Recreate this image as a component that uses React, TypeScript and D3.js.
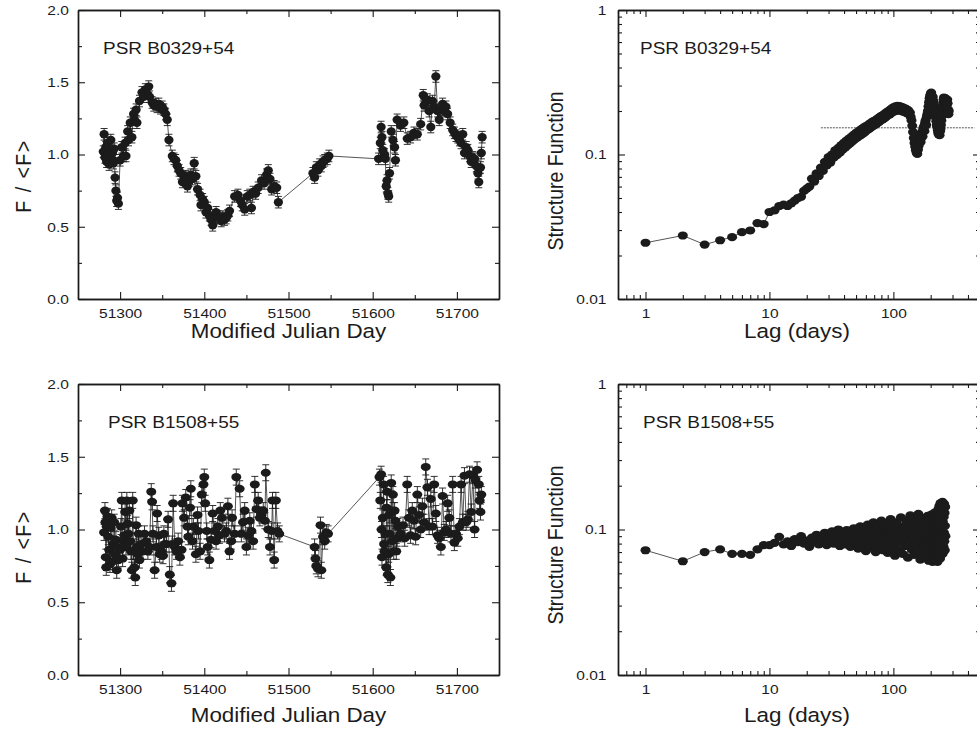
import React, { useEffect, useRef } from 'react';
import * as d3 from 'd3';

// PSR B0329+54 light curve: [MJD, F/<F>]
const b0329Flux: [number, number][] = [
  [51280, 1.02], [51281, 1.14], [51282, 0.98], [51283, 1.05], [51284, 0.95], [51285, 1.08], [51286, 1.0],
  [51287, 0.93], [51288, 1.03], [51289, 1.1], [51290, 0.97], [51291, 1.01], [51292, 0.94], [51293, 1.04],
  [51294, 0.84], [51295, 0.75], [51296, 0.68], [51297, 0.7], [51298, 0.66], [51300, 0.96], [51302, 1.05],
  [51304, 0.99], [51306, 1.08], [51307, 0.99], [51309, 1.16], [51310, 1.1], [51312, 1.22], [51314, 1.12],
  [51316, 1.28], [51317, 1.24], [51319, 1.31], [51320, 1.22], [51323, 1.37], [51326, 1.43], [51328, 1.4],
  [51330, 1.45], [51332, 1.42], [51334, 1.47], [51335, 1.4], [51338, 1.36], [51340, 1.34], [51342, 1.35],
  [51344, 1.33], [51346, 1.35], [51348, 1.32], [51350, 1.33], [51352, 1.31], [51354, 1.28], [51356, 1.24],
  [51358, 1.1], [51362, 0.99], [51364, 0.97], [51366, 0.96], [51368, 0.92], [51370, 0.89], [51372, 0.87],
  [51374, 0.81], [51376, 0.84], [51378, 0.85], [51380, 0.78], [51382, 0.82], [51384, 0.86], [51386, 0.83],
  [51388, 0.94], [51390, 0.85], [51392, 0.76], [51395, 0.72], [51396, 0.65], [51398, 0.69], [51400, 0.67],
  [51402, 0.6], [51404, 0.63], [51406, 0.58], [51408, 0.55], [51410, 0.51], [51412, 0.56], [51414, 0.6],
  [51416, 0.57], [51418, 0.56], [51420, 0.54], [51422, 0.57], [51424, 0.55], [51426, 0.56], [51428, 0.58],
  [51430, 0.61], [51436, 0.71], [51440, 0.72], [51443, 0.68], [51445, 0.65], [51448, 0.62], [51451, 0.71],
  [51454, 0.72], [51456, 0.63], [51458, 0.74], [51461, 0.73], [51464, 0.77], [51468, 0.82], [51471, 0.8],
  [51474, 0.86], [51476, 0.89], [51478, 0.83], [51480, 0.76], [51483, 0.78], [51486, 0.77], [51488, 0.67],
  [51529, 0.87], [51531, 0.84], [51533, 0.91], [51535, 0.89], [51537, 0.93], [51539, 0.92], [51541, 0.95],
  [51543, 0.96], [51546, 0.97], [51548, 0.99],
  [51607, 0.97], [51609, 1.08], [51610, 1.19], [51611, 1.12], [51612, 1.03], [51614, 1.0], [51615, 0.97],
  [51616, 0.78], [51617, 0.82], [51618, 0.73], [51619, 0.71], [51620, 0.87], [51622, 1.16], [51624, 1.1],
  [51626, 1.05], [51627, 0.96], [51629, 1.24], [51633, 1.2], [51637, 1.22], [51641, 1.11], [51645, 1.12],
  [51649, 1.15], [51653, 1.14], [51657, 1.21], [51660, 1.41], [51661, 1.34], [51663, 1.36], [51665, 1.38],
  [51667, 1.3], [51669, 1.19], [51671, 1.37], [51673, 1.33], [51675, 1.54], [51677, 1.3], [51679, 1.24],
  [51681, 1.31], [51683, 1.35], [51685, 1.3], [51687, 1.33], [51689, 1.28], [51692, 1.22], [51695, 1.17],
  [51697, 1.15], [51699, 1.13], [51701, 1.12], [51703, 1.1], [51705, 1.08], [51707, 1.14], [51709, 1.01],
  [51711, 1.05], [51713, 1.03], [51715, 0.99], [51717, 0.95], [51719, 0.98], [51721, 0.97], [51723, 0.92],
  [51725, 0.87], [51726, 0.81], [51728, 0.91], [51729, 1.01], [51730, 1.12],
];
const b0329Err = 0.04;

// PSR B1508+55 light curve: [MJD, F/<F>]
const b1508Flux: [number, number][] = [
  [51281, 0.98], [51282, 1.13], [51282.5, 1.05], [51283, 0.81], [51283.5, 0.74], [51284, 1.02], [51285, 1.09],
  [51286, 0.95], [51287, 0.86], [51288, 0.76], [51289, 1.01], [51290, 1.08], [51291, 0.78], [51292, 0.9],
  [51293, 1.05], [51294, 0.83], [51295, 0.93], [51296, 0.72], [51297, 0.88], [51298, 0.79], [51300, 0.86],
  [51301, 1.02], [51302, 1.2], [51303, 0.8], [51304, 0.92], [51305, 0.96], [51306, 1.12], [51307, 0.88],
  [51308, 1.2], [51309, 1.04], [51310, 0.97], [51311, 1.13], [51312, 0.92], [51313, 0.85], [51314, 0.72],
  [51315, 1.2], [51316, 0.85], [51317, 0.74], [51318, 0.67], [51319, 1.03], [51320, 0.88], [51321, 0.83],
  [51322, 0.97], [51323, 0.79], [51325, 0.9], [51327, 0.85], [51329, 0.97], [51331, 0.92], [51333, 0.85],
  [51335, 0.88], [51337, 1.26], [51338, 1.19], [51339, 0.97], [51341, 0.72], [51343, 0.88], [51344, 1.11],
  [51346, 0.96], [51347, 0.83], [51349, 0.85], [51351, 0.82], [51352, 0.97], [51353, 0.9], [51355, 0.9],
  [51357, 1.07], [51359, 0.69], [51361, 0.63], [51362, 0.9], [51363, 1.18], [51365, 0.88], [51367, 0.85],
  [51369, 0.92], [51371, 0.81], [51373, 0.86], [51374, 1.18], [51376, 1.08], [51378, 1.22], [51380, 1.02],
  [51381, 0.95], [51383, 1.15], [51384, 1.28], [51386, 0.92], [51387, 1.02], [51390, 0.83], [51392, 1.1],
  [51393, 0.99], [51395, 0.85], [51397, 1.24], [51399, 1.31], [51400, 1.36], [51401, 1.18], [51403, 0.99],
  [51404, 0.88], [51406, 0.79], [51408, 0.93], [51410, 1.11], [51412, 0.99], [51414, 0.92], [51416, 1.02],
  [51418, 0.96], [51419, 1.13], [51421, 1.08], [51424, 0.97], [51426, 0.99], [51428, 1.16], [51430, 0.85],
  [51432, 0.92], [51433, 1.08], [51436, 0.97], [51438, 1.36], [51442, 1.28], [51444, 0.97], [51446, 1.05],
  [51448, 1.13], [51450, 0.88], [51452, 0.96], [51454, 1.06], [51456, 0.99], [51458, 0.92], [51460, 1.31],
  [51462, 1.14], [51464, 1.2], [51466, 1.08], [51468, 1.1], [51470, 1.13], [51472, 1.06], [51473, 1.39],
  [51476, 1.0], [51478, 0.88], [51480, 0.99], [51481, 1.2], [51483, 0.79], [51485, 1.2], [51487, 0.99],
  [51489, 0.97],
  [51531, 0.88], [51532, 0.8], [51533, 0.75], [51535, 0.73], [51538, 1.03], [51539, 0.72], [51541, 0.95],
  [51543, 0.92], [51545, 0.98], [51547, 0.97],
  [51608, 1.36], [51609, 1.2], [51610, 1.38], [51610.5, 1.0], [51611, 0.81], [51612, 1.08], [51613, 1.31],
  [51613.5, 0.9], [51614, 0.85], [51615, 0.97], [51616, 0.74], [51616.5, 1.15], [51617, 1.26], [51618, 0.69],
  [51619, 0.83], [51619.5, 1.1], [51620, 0.97], [51621, 0.67], [51622, 1.32], [51623, 0.92], [51624, 1.24],
  [51625, 0.85], [51626, 1.13], [51627, 1.06], [51628, 0.85], [51629, 0.94], [51630, 1.02], [51633, 0.97],
  [51636, 1.03], [51638, 0.94], [51641, 1.31], [51643, 1.08], [51645, 0.96], [51647, 1.13], [51649, 1.06],
  [51651, 0.95], [51653, 1.24], [51655, 1.1], [51657, 1.0], [51659, 1.16], [51661, 1.05], [51663, 1.43],
  [51665, 1.29], [51667, 1.02], [51669, 1.21], [51671, 1.02], [51673, 1.31], [51675, 1.11], [51677, 0.96],
  [51679, 0.94], [51681, 0.88], [51683, 1.23], [51685, 0.98], [51687, 1.0], [51689, 1.18], [51691, 1.08],
  [51693, 0.97], [51695, 1.31], [51697, 0.91], [51699, 0.97], [51701, 0.94], [51703, 1.02], [51705, 1.31],
  [51707, 1.05], [51709, 1.37], [51711, 1.05], [51713, 1.07], [51715, 1.38], [51717, 1.12], [51719, 1.37],
  [51721, 1.0], [51722, 1.34], [51724, 1.41], [51726, 1.31], [51727, 1.2], [51728, 1.12], [51729, 1.24],
];
const b1508Err = 0.055;

// structure functions: [lag (days), SF]
const b0329SF: [number, number][] = [
  [1, 0.0245], [2, 0.0275], [3, 0.0238], [4, 0.0255], [5, 0.0268], [6, 0.029], [7, 0.0298], [8, 0.0335],
  [9, 0.033], [10, 0.04], [11, 0.041], [12, 0.044], [13, 0.045], [14, 0.044], [15, 0.046], [16, 0.048],
  [17, 0.05], [18, 0.051], [19, 0.056], [20, 0.058], [21, 0.06], [22, 0.068], [23, 0.065], [24, 0.074],
  [25, 0.071], [26, 0.081], [27, 0.077], [28, 0.089], [29, 0.084], [30, 0.096], [31, 0.088], [32, 0.1],
  [33, 0.095], [34, 0.107], [35, 0.099], [36, 0.111], [37, 0.103], [38, 0.116], [39, 0.108], [40, 0.121],
  [41, 0.112], [42, 0.125], [43, 0.116], [44, 0.129], [45, 0.12], [46, 0.133], [47, 0.124], [48, 0.137],
  [49, 0.128], [50, 0.141], [51, 0.131], [52, 0.144], [53, 0.134], [54, 0.148], [55, 0.137], [56, 0.151],
  [57, 0.14], [58, 0.154], [59, 0.143], [60, 0.157], [62, 0.148], [63, 0.161], [64, 0.151], [65, 0.164],
  [66, 0.154], [67, 0.167], [68, 0.157], [69, 0.17], [70, 0.159], [72, 0.173], [73, 0.163], [74, 0.176],
  [75, 0.166], [76, 0.179], [77, 0.169], [78, 0.182], [79, 0.172], [80, 0.185], [82, 0.175], [83, 0.188],
  [84, 0.178], [85, 0.191], [86, 0.181], [87, 0.194], [88, 0.184], [89, 0.197], [90, 0.187], [92, 0.2],
  [93, 0.189], [94, 0.203], [95, 0.192], [96, 0.206], [97, 0.195], [98, 0.209], [99, 0.197], [100, 0.212],
  [102, 0.199], [104, 0.215], [106, 0.201], [108, 0.217], [110, 0.203], [112, 0.216], [114, 0.201],
  [116, 0.214], [118, 0.199], [120, 0.211], [122, 0.197], [124, 0.209], [126, 0.195], [128, 0.205],
  [130, 0.193], [132, 0.202], [134, 0.19], [136, 0.195], [138, 0.182], [140, 0.172], [142, 0.158],
  [144, 0.143], [146, 0.13], [148, 0.12], [150, 0.113], [152, 0.107], [154, 0.103], [156, 0.101],
  [158, 0.108], [160, 0.115], [162, 0.124], [164, 0.13], [166, 0.122], [168, 0.137], [170, 0.142],
  [172, 0.133], [174, 0.15], [176, 0.156], [178, 0.145], [180, 0.165], [182, 0.172], [184, 0.16], [186, 0.182],
  [188, 0.19], [190, 0.2], [192, 0.215], [194, 0.23], [196, 0.245], [198, 0.255], [200, 0.262], [202, 0.268],
  [204, 0.255], [206, 0.24], [208, 0.25], [210, 0.235], [212, 0.22], [214, 0.21], [216, 0.2], [218, 0.19],
  [220, 0.18], [222, 0.17], [224, 0.16], [226, 0.155], [228, 0.148], [230, 0.142], [232, 0.138], [234, 0.14],
  [236, 0.136], [238, 0.145], [240, 0.15], [242, 0.16], [244, 0.172], [246, 0.185], [248, 0.2], [250, 0.215],
  [252, 0.228], [254, 0.24], [256, 0.248], [258, 0.238], [260, 0.225], [262, 0.245], [264, 0.232],
  [266, 0.215], [268, 0.2], [270, 0.222], [272, 0.24], [274, 0.226], [276, 0.205], [278, 0.19], [280, 0.2],
];
const b0329SFLevel = 0.153;
const b0329SFLevelLags = [26, 450];

const b1508SF: [number, number][] = [
  [1, 0.072], [2, 0.0605], [3, 0.07], [4, 0.073], [5, 0.068], [6, 0.068], [7, 0.067], [8, 0.073], [9, 0.078],
  [10, 0.078], [11, 0.081], [12, 0.089], [13, 0.079], [14, 0.083], [15, 0.077], [16, 0.086], [17, 0.082],
  [18, 0.09], [19, 0.08], [20, 0.084], [21, 0.076], [22, 0.088], [23, 0.082], [24, 0.092], [25, 0.079],
  [26, 0.086], [27, 0.081], [28, 0.095], [29, 0.078], [30, 0.087], [31, 0.083], [32, 0.097], [33, 0.08],
  [34, 0.089], [35, 0.085], [36, 0.1], [37, 0.077], [38, 0.091], [39, 0.084], [40, 0.094], [41, 0.079],
  [42, 0.099], [43, 0.086], [44, 0.09], [45, 0.076], [46, 0.096], [47, 0.083], [48, 0.102], [49, 0.088],
  [50, 0.081], [51, 0.097], [52, 0.074], [53, 0.091], [54, 0.105], [55, 0.083], [56, 0.095], [57, 0.078],
  [58, 0.101], [59, 0.088], [60, 0.071], [61, 0.093], [62, 0.108], [63, 0.082], [64, 0.097], [65, 0.076],
  [66, 0.089], [67, 0.103], [68, 0.085], [69, 0.112], [70, 0.079], [71, 0.094], [72, 0.07], [73, 0.099],
  [74, 0.087], [75, 0.106], [76, 0.081], [77, 0.092], [78, 0.074], [79, 0.1], [80, 0.115], [81, 0.084],
  [82, 0.096], [83, 0.072], [84, 0.09], [85, 0.104], [86, 0.079], [87, 0.098], [88, 0.086], [89, 0.11],
  [90, 0.069], [91, 0.093], [92, 0.082], [93, 0.102], [94, 0.076], [95, 0.118], [96, 0.088], [97, 0.097],
  [98, 0.073], [99, 0.107], [100, 0.084], [101, 0.095], [103, 0.066], [105, 0.112], [107, 0.08], [109, 0.1],
  [111, 0.072], [113, 0.09], [115, 0.121], [117, 0.085], [119, 0.068], [121, 0.105], [123, 0.094],
  [125, 0.077], [127, 0.115], [129, 0.088], [131, 0.064], [133, 0.099], [135, 0.082], [137, 0.125],
  [139, 0.092], [141, 0.073], [143, 0.108], [145, 0.086], [147, 0.067], [149, 0.118], [151, 0.096],
  [153, 0.079], [155, 0.103], [157, 0.07], [159, 0.128], [161, 0.089], [163, 0.112], [165, 0.062],
  [167, 0.097], [169, 0.083], [171, 0.12], [173, 0.075], [175, 0.104], [177, 0.091], [179, 0.066],
  [181, 0.114], [183, 0.085], [185, 0.1], [187, 0.071], [189, 0.124], [191, 0.088], [193, 0.061],
  [195, 0.108], [197, 0.079], [199, 0.095], [200, 0.118], [201, 0.068], [202, 0.102], [203, 0.084],
  [204, 0.127], [205, 0.074], [206, 0.093], [207, 0.06], [208, 0.111], [209, 0.087], [210, 0.098],
  [211, 0.065], [212, 0.122], [213, 0.081], [214, 0.105], [215, 0.072], [216, 0.092], [217, 0.131],
  [218, 0.062], [219, 0.099], [220, 0.084], [221, 0.115], [222, 0.07], [223, 0.094], [224, 0.128],
  [225, 0.077], [226, 0.103], [227, 0.06], [228, 0.089], [229, 0.12], [230, 0.082], [231, 0.138],
  [232, 0.069], [233, 0.108], [234, 0.093], [235, 0.145], [236, 0.075], [237, 0.117], [238, 0.063],
  [239, 0.1], [240, 0.152], [241, 0.086], [242, 0.128], [243, 0.071], [244, 0.11], [245, 0.147],
  [246, 0.08], [247, 0.135], [248, 0.097], [249, 0.155], [250, 0.068], [251, 0.113], [252, 0.088],
  [253, 0.14], [254, 0.076], [255, 0.122], [256, 0.095], [257, 0.15], [258, 0.083], [259, 0.13],
  [260, 0.072], [261, 0.106], [262, 0.143], [263, 0.09],
];

const mjdTicks = [51300, 51400, 51500, 51600, 51700];
const mjdMinor = [51350, 51450, 51550, 51650];
const fluxTicks = [0, 0.5, 1.0, 1.5, 2.0];
const fluxMinor = [0.25, 0.75, 1.25, 1.75];
const lagTicks = [1, 10, 100];
const lagMinor = [0.6, 0.7, 0.8, 0.9, 2, 3, 4, 5, 6, 7, 8, 9, 20, 30, 40, 50, 60, 70, 80, 90, 200, 300, 400];
const sfTicks = [0.01, 0.1, 1];
const sfMinor = [0.02, 0.03, 0.04, 0.05, 0.06, 0.07, 0.08, 0.09, 0.2, 0.3, 0.4, 0.5, 0.6, 0.7, 0.8, 0.9];

const W = 977;
const H = 744;
const FONT = '"Liberation Sans", Arial, Helvetica, sans-serif';
const INK = '#1b1b1b';
const STRETCH = 1.15; // the original type is a bit wide

const LEFT_X: [number, number] = [78, 499];
const RIGHT_X: [number, number] = [618, 980];
const ROW_Y: [number, number][] = [[299, 10], [675, 384]];

type Sel = d3.Selection<any, any, any, any>;

function frame(g: Sel, x: any, y: any, majX: number[], minX: number[], majY: number[], minY: number[],
  fmtX: (d: any) => string, fmtY: (d: any) => string, padY: number) {
  const [x0, x1] = x.range();
  const [yb, yt] = y.range();
  const none = () => '';
  const add = (axis: any, tx: number, ty: number) => {
    const a = g.append('g').attr('transform', `translate(${tx},${ty})`).call(axis);
    a.attr('font-family', FONT).attr('font-size', 13.5);
    a.select('.domain').attr('stroke', INK).attr('stroke-width', 1.4);
    a.selectAll('.tick line').attr('stroke', INK).attr('stroke-width', 1.1);
    a.selectAll('.tick text').attr('fill', INK).attr('transform', `scale(${STRETCH},1)`);
  };
  add(d3.axisBottom(x).tickValues(majX).tickSizeInner(-7).tickSizeOuter(0).tickPadding(9).tickFormat(fmtX), 0, yb);
  add(d3.axisBottom(x).tickValues(minX).tickSizeInner(-4).tickSizeOuter(0).tickFormat(none), 0, yb);
  add(d3.axisTop(x).tickValues(majX).tickSizeInner(-7).tickSizeOuter(0).tickFormat(none), 0, yt);
  add(d3.axisTop(x).tickValues(minX).tickSizeInner(-4).tickSizeOuter(0).tickFormat(none), 0, yt);
  add(d3.axisLeft(y).tickValues(majY).tickSizeInner(-7).tickSizeOuter(0).tickPadding(padY).tickFormat(fmtY), x0, 0);
  add(d3.axisLeft(y).tickValues(minY).tickSizeInner(-4).tickSizeOuter(0).tickFormat(none), x0, 0);
  add(d3.axisRight(y).tickValues(majY).tickSizeInner(-7).tickSizeOuter(0).tickFormat(none), x1, 0);
  add(d3.axisRight(y).tickValues(minY).tickSizeInner(-4).tickSizeOuter(0).tickFormat(none), x1, 0);
}

function label(g: Sel, text: string, x: number, y: number, size: number, anchor: string, rotate = false, spacing = 0) {
  g.append('text')
    .attr('transform', `translate(${x},${y}) scale(${STRETCH},1)${rotate ? ' rotate(-90)' : ''}`)
    .attr('text-anchor', anchor)
    .attr('font-family', FONT)
    .attr('font-size', size)
    .attr('letter-spacing', spacing)
    .attr('fill', INK)
    .text(text);
}

function drawFlux(root: Sel, data: [number, number][], err: number, row: number, title: string, tx: number,
  rx: number, ry: number) {
  const [yb, yt] = ROW_Y[row];
  const x = d3.scaleLinear().domain([51250, 51750]).range(LEFT_X);
  const y = d3.scaleLinear().domain([0, 2]).range([yb, yt]);
  const g = root.append('g');

  g.append('path')
    .datum(data)
    .attr('d', d3.line<[number, number]>().x((d) => x(d[0])).y((d) => y(d[1])))
    .attr('fill', 'none').attr('stroke', '#2a2a2a').attr('stroke-width', 0.8);

  const eb = g.append('g').attr('stroke', INK).attr('stroke-width', 0.9);
  eb.selectAll('line.v').data(data).join('line').attr('class', 'v')
    .attr('x1', (d) => x(d[0])).attr('x2', (d) => x(d[0]))
    .attr('y1', (d) => y(d[1] - err)).attr('y2', (d) => y(d[1] + err));
  [1, -1].forEach((s) => {
    eb.selectAll(`line.c${s}`).data(data).join('line').attr('class', `c${s}`)
      .attr('x1', (d) => x(d[0]) - 3.5).attr('x2', (d) => x(d[0]) + 3.5)
      .attr('y1', (d) => y(d[1] + s * err)).attr('y2', (d) => y(d[1] + s * err));
  });

  g.append('g').attr('fill', INK).selectAll('ellipse').data(data).join('ellipse')
    .attr('cx', (d) => x(d[0])).attr('cy', (d) => y(d[1])).attr('rx', rx).attr('ry', ry);

  frame(g, x, y, mjdTicks, mjdMinor, fluxTicks, fluxMinor, (d) => String(d), d3.format('.1f'), 8);

  label(g, title, tx, yt + 43.5, 16.5, 'start');
  label(g, 'Modified Julian Day', (LEFT_X[0] + LEFT_X[1]) / 2, row === 0 ? 338 : 722, 19.5, 'middle');
  label(g, 'F / <F>', 31, row === 0 ? 176 : 547, 19.5, 'middle', true, 1.5);
}

function drawSF(root: Sel, data: [number, number][], row: number, title: string, tx: number, level?: number) {
  const [yb, yt] = ROW_Y[row];
  const x = d3.scaleLog().domain([0.6, 500]).range(RIGHT_X);
  const y = d3.scaleLog().domain([0.01, 1]).range([yb, yt]);
  const g = root.append('g');

  if (level !== undefined) {
    g.append('line')
      .attr('x1', x(b0329SFLevelLags[0])).attr('x2', x(b0329SFLevelLags[1]))
      .attr('y1', y(level)).attr('y2', y(level))
      .attr('stroke', '#555').attr('stroke-width', 1).attr('stroke-dasharray', '2,1');
  }

  g.append('path')
    .datum(data)
    .attr('d', d3.line<[number, number]>().x((d) => x(d[0])).y((d) => y(d[1])))
    .attr('fill', 'none').attr('stroke', '#2a2a2a').attr('stroke-width', 0.8);

  g.append('g').attr('fill', INK).selectAll('ellipse').data(data).join('ellipse')
    .attr('cx', (d) => x(d[0])).attr('cy', (d) => y(d[1])).attr('rx', 5).attr('ry', 4.1);

  frame(g, x, y, lagTicks, lagMinor, sfTicks, sfMinor, (d) => String(d), (d) => String(d), 10);

  label(g, title, tx, yt + 43.5, 16.5, 'start');
  label(g, 'Lag (days)', 797, row === 0 ? 338 : 722, 19.5, 'middle');
  label(g, 'Structure Function', 563, row === 0 ? 171 : 545, 19.5, 'middle', true);
}

export default function App() {
  const ref = useRef<SVGSVGElement>(null);

  useEffect(() => {
    const svg = d3.select(ref.current);
    svg.selectAll('*').remove();
    drawFlux(svg, b0329Flux, b0329Err, 0, 'PSR B0329+54', 103, 4.6, 4.2);
    drawFlux(svg, b1508Flux, b1508Err, 1, 'PSR B1508+55', 108, 5, 4);
    drawSF(svg, b0329SF, 0, 'PSR B0329+54', 640, b0329SFLevel);
    drawSF(svg, b1508SF, 1, 'PSR B1508+55', 643);
  }, []);

  return (
    <svg ref={ref} width={W} height={H}
      style={{ position: 'absolute', left: 0, top: 0, background: '#fff' }} />
  );
}
